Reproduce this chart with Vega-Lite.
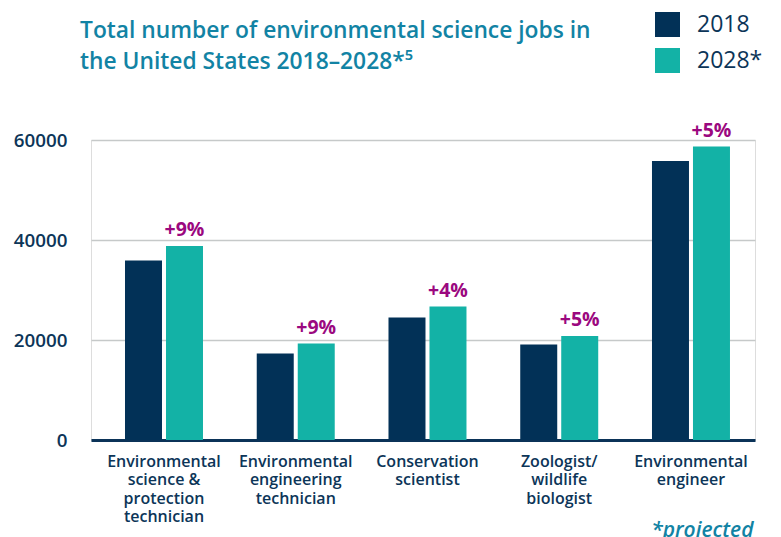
{
  "$schema": "https://vega.github.io/schema/vega-lite/v6.json",
  "width": 664,
  "height": 300,
  "autosize": {"type": "none"},
  "padding": {"left": 91, "top": 140, "right": 26, "bottom": 97},
  "background": "white",
  "title": {
    "text": ["Total number of environmental science jobs in", "the United States 2018–2028*⁵"],
    "anchor": "start",
    "frame": "group",
    "dx": -11,
    "offset": -62,
    "font": "Open Sans",
    "fontSize": 22.8,
    "fontWeight": 600,
    "lineHeight": 31.5,
    "color": "#1283a4"
  },
  "data": {
    "values": [
      {"occupation": "Environmental science & protection technician", "year": "2018", "jobs": 35900},
      {"occupation": "Environmental science & protection technician", "year": "2028*", "jobs": 38800, "change": "+9%"},
      {"occupation": "Environmental engineering technician", "year": "2018", "jobs": 17300},
      {"occupation": "Environmental engineering technician", "year": "2028*", "jobs": 19300, "change": "+9%"},
      {"occupation": "Conservation scientist", "year": "2018", "jobs": 24500},
      {"occupation": "Conservation scientist", "year": "2028*", "jobs": 26700, "change": "+4%"},
      {"occupation": "Zoologist/ wildlife biologist", "year": "2018", "jobs": 19100},
      {"occupation": "Zoologist/ wildlife biologist", "year": "2028*", "jobs": 20800, "change": "+5%"},
      {"occupation": "Environmental engineer", "year": "2018", "jobs": 55800},
      {"occupation": "Environmental engineer", "year": "2028*", "jobs": 58700, "change": "+5%"}
    ]
  },
  "encoding": {
    "x": {
      "field": "occupation",
      "type": "nominal",
      "sort": null,
      "scale": {"paddingInner": 0.408, "paddingOuter": 0.224, "align": 0.576},
      "axis": {
        "labelAngle": 0,
        "labelPadding": 13,
        "labelFont": "Open Sans",
        "labelFontSize": 16,
        "labelFontWeight": 600,
        "labelColor": "#0c3558",
        "labelLineHeight": 18.5,
        "labelBaseline": "top",
        "labelLimit": 0,
        "labelOverlap": false,
        "labelExpr": "{'Environmental science & protection technician': ['Environmental', 'science &', 'protection', 'technician'], 'Environmental engineering technician': ['Environmental', 'engineering', 'technician'], 'Conservation scientist': ['Conservation', 'scientist'], 'Zoologist/ wildlife biologist': ['Zoologist/', 'wildlife', 'biologist'], 'Environmental engineer': ['Environmental', 'engineer']}[datum.value]",
        "ticks": false,
        "domainColor": "#0b3358",
        "domainWidth": 3,
        "title": "*projected",
        "titleFont": "Open Sans",
        "titleFontSize": 21,
        "titleFontStyle": "italic",
        "titleFontWeight": 600,
        "titleColor": "#1283a4",
        "titleAnchor": "end",
        "titleAlign": "right",
        "titleBaseline": "alphabetic",
        "titleX": 662,
        "titleY": 96
      }
    },
    "y": {
      "field": "jobs",
      "type": "quantitative",
      "scale": {"domain": [0, 60000]},
      "axis": {
        "values": [0, 20000, 40000, 60000],
        "format": "d",
        "title": null,
        "domain": false,
        "ticks": false,
        "labelPadding": 24,
        "labelFont": "Open Sans",
        "labelFontSize": 18.8,
        "labelFontWeight": 600,
        "labelColor": "#0c3558",
        "gridColor": "#c6c9c9",
        "gridWidth": 1.5
      }
    },
    "xOffset": {
      "field": "year",
      "type": "nominal",
      "scale": {"paddingInner": 0.0976, "paddingOuter": 0}
    }
  },
  "layer": [
    {
      "mark": {"type": "bar"},
      "encoding": {
        "color": {
          "field": "year",
          "type": "nominal",
          "scale": {"domain": ["2018", "2028*"], "range": ["#023157", "#13b2a6"]},
          "legend": {
            "orient": "none",
            "legendX": 564,
            "legendY": -128,
            "title": null,
            "padding": 0,
            "symbolType": "square",
            "symbolSize": 625,
            "symbolStrokeWidth": 0,
            "symbolOpacity": 1,
            "labelFont": "Open Sans",
            "labelFontSize": 23,
            "labelFontWeight": 500,
            "labelColor": "#0c3558",
            "labelOffset": 17,
            "rowPadding": 11
          }
        }
      }
    },
    {
      "transform": [{"filter": "datum.year === '2028*'"}],
      "mark": {
        "type": "text",
        "baseline": "alphabetic",
        "dy": -10,
        "font": "Open Sans",
        "fontSize": 19.5,
        "fontWeight": "bold",
        "color": "#9b087f"
      },
      "encoding": {"text": {"field": "change"}}
    }
  ]
}
